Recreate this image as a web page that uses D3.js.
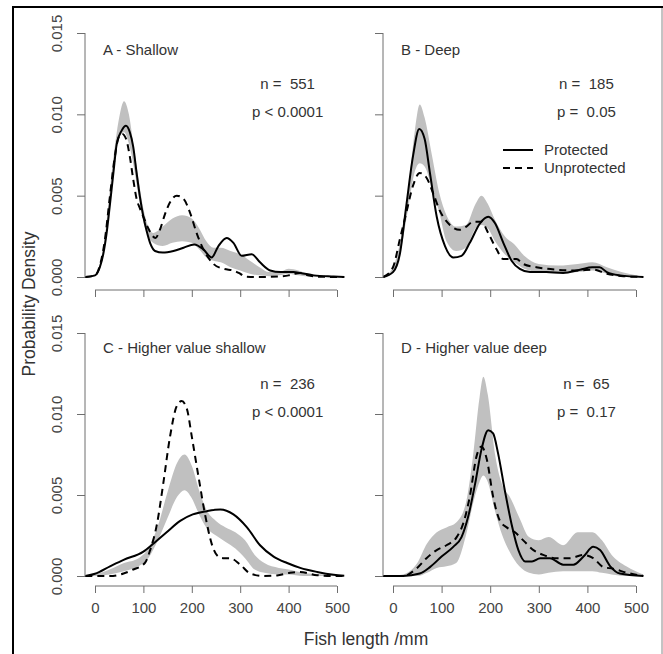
<!DOCTYPE html>
<html>
<head>
<meta charset="utf-8">
<script src="https://cdn.jsdelivr.net/npm/d3@7"></script>
<style>
  body { margin: 0; background: #fff; }
  text { font-family: "Liberation Sans", Arial, Helvetica, sans-serif; }
</style>
</head>
<body>
<svg id="chart" width="663" height="654"></svg>
<script>
// ---- data: [length mm, density] ----
var xTicks = [0, 100, 200, 300, 400, 500];
var yTicks = [0, 0.005, 0.010, 0.015];

var panelTitles = ["A - Shallow", "B - Deep", "C - Higher value shallow", "D - Higher value deep"];
var sampleSizes = ["n =  551", "n =  185", "n =  236", "n =  65"];
var pValues = ["p < 0.0001", "p =  0.05", "p < 0.0001", "p =  0.17"];
var legendLabels = ["Protected", "Unprotected"];

var aProt = [[-20,0],[0,0.0001],[10,0.0006],[17,0.0014],[24,0.0027],[31,0.0045],[38,0.0064],[45,0.0082],[55,0.009],[64,0.0093],[72,0.0089],[79,0.008],[86,0.0064],[93,0.0049],[100,0.0037],[107,0.0028],[115,0.002],[124,0.0016],[140,0.0015],[162,0.0016],[183,0.0018],[205,0.002],[224,0.0017],[241,0.0012],[255,0.0019],[272,0.0024],[286,0.0021],[303,0.0013],[324,0.0014],[341,0.0009],[362,0.0004],[383,0.0003],[410,0.0003],[424,0.00025],[452,0.0001],[493,0.00003],[515,0]];
var aUnp = [[-20,0],[0,0.0001],[10,0.0007],[20,0.0022],[31,0.005],[40,0.0072],[48,0.0085],[56,0.0088],[64,0.0085],[72,0.0074],[79,0.006],[86,0.0048],[93,0.0042],[100,0.0037],[110,0.003],[117,0.0026],[125,0.0024],[134,0.0029],[145,0.0039],[155,0.0046],[169,0.005],[183,0.0048],[197,0.0039],[210,0.0027],[224,0.0017],[245,0.0008],[266,0.0005],[286,0.0004],[300,0.0002],[310,0.00003],[340,0],[380,0.00003],[400,0.0001],[412,0.0002],[424,0.00025],[440,0.0001],[460,0.00002],[515,0]];
var aBand = [[-20,0,0],[0,0.00005,0.0001],[10,0.0005,0.0008],[20,0.0018,0.0024],[30,0.0042,0.0052],[40,0.0068,0.0078],[50,0.0086,0.0098],[60,0.0089,0.0108],[70,0.0082,0.01],[80,0.0068,0.008],[90,0.005,0.006],[100,0.0034,0.0042],[110,0.0025,0.0031],[120,0.0021,0.0027],[140,0.0019,0.0031],[160,0.0021,0.0036],[180,0.0022,0.0038],[200,0.0021,0.0036],[215,0.0017,0.003],[230,0.0012,0.0022],[245,0.001,0.0018],[260,0.0009,0.0018],[280,0.0006,0.0016],[300,0.0004,0.0014],[320,0.0002,0.001],[340,0.0001,0.0006],[360,0.00005,0.0003],[380,0.0001,0.0003],[400,0.0002,0.0005],[420,0.0001,0.0004],[440,0.00003,0.0002],[460,0,0.0001],[515,0,0]];

var bProt = [[-20,0],[0,0.0003],[14,0.0014],[27,0.0043],[41,0.0074],[54,0.0091],[65,0.0085],[76,0.0064],[90,0.0037],[107,0.0019],[124,0.0012],[141,0.0013],[158,0.0021],[179,0.0033],[196,0.0037],[210,0.0033],[227,0.0021],[244,0.001],[261,0.0005],[282,0.0003],[316,0.0003],[350,0.00025],[385,0.00045],[410,0.0006],[425,0.0006],[440,0.0003],[467,0.0001],[515,0]];
var bUnp = [[-20,0],[0,0.0006],[14,0.0023],[27,0.0039],[41,0.0056],[55,0.0064],[69,0.0061],[82,0.0052],[96,0.0041],[117,0.0032],[137,0.0029],[151,0.0031],[165,0.0034],[182,0.0034],[196,0.0027],[213,0.0017],[227,0.0011],[254,0.0011],[268,0.0008],[295,0.0006],[336,0.00045],[378,0.0004],[412,0.00045],[440,0.0002],[474,0.00005],[515,0]];
var bBand = [[-20,0,0],[0,0.0003,0.0006],[15,0.0015,0.0022],[30,0.004,0.005],[45,0.0065,0.009],[55,0.007,0.0106],[65,0.0068,0.0098],[80,0.0055,0.0075],[95,0.004,0.0052],[110,0.0022,0.0038],[130,0.0016,0.0031],[150,0.0018,0.0032],[170,0.003,0.0045],[182,0.0032,0.005],[195,0.003,0.0045],[210,0.0022,0.0035],[230,0.0014,0.0025],[250,0.0009,0.002],[270,0.0005,0.0013],[300,0.0003,0.0008],[340,0.0002,0.0007],[380,0.0003,0.0008],[410,0.0004,0.0009],[440,0.0002,0.0006],[470,0,0.0003],[500,0,0.0001],[515,0,0]];

var cProt = [[-20,0],[0,0.00014],[31,0.0006],[59,0.001],[100,0.0015],[121,0.002],[148,0.0027],[176,0.0034],[202,0.0038],[231,0.004],[259,0.0041],[286,0.0038],[314,0.003],[341,0.0019],[369,0.0012],[397,0.0008],[424,0.0005],[459,0.00025],[493,0.00008],[515,0.00002]];
var cUnp = [[-20,0],[10,0],[31,0],[59,0.00015],[79,0.0004],[103,0.0008],[114,0.0016],[128,0.0032],[141,0.0057],[155,0.0086],[169,0.0105],[179,0.0108],[190,0.0103],[200,0.0086],[214,0.0061],[228,0.0037],[241,0.002],[255,0.0012],[267,0.0011],[279,0.0011],[300,0.0007],[321,0.00015],[348,0],[376,0.00003],[403,0.0002],[424,0.00025],[459,0.00005],[500,0],[515,0]];
var cBand = [[-20,0,0],[0,0,0.0001],[30,0.0001,0.0004],[60,0.0003,0.0008],[90,0.0006,0.0011],[110,0.0011,0.0017],[130,0.0022,0.0031],[150,0.0036,0.0052],[170,0.0049,0.007],[185,0.0053,0.0075],[200,0.0048,0.0068],[215,0.0038,0.0053],[230,0.003,0.0041],[250,0.0025,0.0034],[270,0.0021,0.003],[290,0.0017,0.0027],[310,0.0011,0.0022],[330,0.0004,0.0013],[350,0.0002,0.0008],[380,0.0001,0.0005],[400,0.0001,0.0004],[430,0,0.0002],[470,0,0.0001],[515,0,0]];

var dProt = [[-20,0],[21,0],[55,0.00015],[76,0.00055],[100,0.0012],[124,0.0018],[141,0.0024],[155,0.0037],[169,0.0057],[182,0.0078],[196,0.009],[206,0.0088],[216,0.0076],[230,0.0053],[244,0.0032],[258,0.0016],[272,0.0009],[286,0.0009],[303,0.0011],[323,0.0011],[350,0.0007],[371,0.0007],[392,0.0012],[412,0.0018],[426,0.0016],[447,0.0006],[467,0.00015],[515,0]];
var dUnp = [[-20,0],[21,0],[48,0.00045],[69,0.0011],[90,0.0016],[110,0.0019],[131,0.0024],[144,0.0032],[158,0.0049],[172,0.0074],[182,0.008],[193,0.0072],[206,0.0049],[220,0.0034],[234,0.003],[251,0.0027],[268,0.0022],[289,0.0016],[309,0.0013],[337,0.0011],[364,0.0011],[392,0.0013],[412,0.0011],[433,0.00055],[453,0.00045],[481,0.0002],[515,0]];
var dBand = [[-20,0,0],[20,0,0.0001],[50,0,0.0008],[70,0.0002,0.002],[90,0.0005,0.0027],[110,0.0006,0.003],[130,0.0008,0.0033],[150,0.0025,0.0045],[165,0.0045,0.0075],[178,0.0058,0.011],[186,0.0062,0.0123],[195,0.0058,0.0112],[210,0.004,0.0075],[225,0.0025,0.0056],[240,0.0015,0.0049],[260,0.0006,0.0036],[280,0.0002,0.0024],[300,0.0001,0.0022],[320,0.0002,0.0024],[350,0.0003,0.0019],[380,0.0003,0.0027],[410,0.0003,0.0027],[430,0.0002,0.0022],[450,0.0001,0.0013],[480,0,0.0006],[515,0,0.0001]];

var prots = [aProt, bProt, cProt, dProt];
var unps = [aUnp, bUnp, cUnp, dUnp];
var bands = [aBand, bBand, cBand, dBand];

// ---- layout ----
var svg = d3.select("#chart");
var cols = [[95, 337], [393, 636]];      // x pixel of 0 and 500
var rows = [[277, 33], [576, 333]];      // y pixel of 0 and 0.015
var yAxisX = [85, 383];
var xAxisY = [290, 586];
var axisCol = "#6e6e6e", tickCol = "#444", txtCol = "#333";

// frame
svg.append("line").attr("x1", 12).attr("x2", 663).attr("y1", 7).attr("y2", 7)
  .attr("stroke", "#000").attr("stroke-width", 2);
svg.append("line").attr("x1", 13).attr("x2", 13).attr("y1", 6).attr("y2", 654)
  .attr("stroke", "#000").attr("stroke-width", 2);
svg.append("line").attr("x1", 662).attr("x2", 662).attr("y1", 8).attr("y2", 654)
  .attr("stroke", "#888").attr("stroke-width", 1);

for (var i = 0; i < 4; i++) {
  var c = i % 2, r = Math.floor(i / 2);
  var x = d3.scaleLinear().domain([0, 500]).range(cols[c]);
  var y = d3.scaleLinear().domain([0, 0.015]).range(rows[r]);
  var g = svg.append("g");

  var area = d3.area().x(function(d){ return x(d[0]); })
    .y0(function(d){ return y(d[1]); }).y1(function(d){ return y(d[2]); })
    .curve(d3.curveMonotoneX);
  var line = d3.line().x(function(d){ return x(d[0]); })
    .y(function(d){ return y(d[1]); }).curve(d3.curveMonotoneX);

  g.append("path").datum(bands[i]).attr("d", area).attr("fill", "#c0c0c0");
  g.append("path").datum(unps[i]).attr("d", line).attr("fill", "none")
    .attr("stroke", "#000").attr("stroke-width", 2).attr("stroke-dasharray", "7,5");
  g.append("path").datum(prots[i]).attr("d", line).attr("fill", "none")
    .attr("stroke", "#000").attr("stroke-width", 2);

  // y axis (R style, detached)
  var ya = g.append("g").attr("transform", "translate(" + yAxisX[c] + ",0)")
    .call(d3.axisLeft(y).tickValues(yTicks).tickSize(8).tickFormat(d3.format(".3f")));
  ya.select(".domain").attr("d", "M0," + y(0) + "V" + y(0.015));
  ya.selectAll("line, .domain").attr("stroke", axisCol);
  if (c === 0) {
    ya.selectAll(".tick text").attr("transform", "rotate(-90)").attr("x", 0).attr("y", -23)
      .attr("dy", 0).attr("text-anchor", "middle").attr("fill", tickCol).style("font-size", "15px");
  } else {
    ya.selectAll(".tick text").remove();
  }

  // x axis
  var xa = g.append("g").attr("transform", "translate(0," + xAxisY[r] + ")")
    .call(d3.axisBottom(x).tickValues(xTicks).tickSize(7));
  xa.select(".domain").attr("d", "M" + x(0) + ",0H" + x(500));
  xa.selectAll("line, .domain").attr("stroke", axisCol);
  if (r === 1) {
    xa.selectAll(".tick text").attr("y", 22).attr("dy", "0.32em").attr("fill", tickCol).style("font-size", "15px");
  } else {
    xa.selectAll(".tick text").remove();
  }

  // panel annotations
  var topY = rows[r][1];
  g.append("text").attr("x", x(0) + 8).attr("y", topY + (r === 0 ? 22 : 20))
    .attr("fill", txtCol).style("font-size", "15px").text(panelTitles[i]);
  g.append("text").attr("x", x(398)).attr("y", topY + 56).attr("text-anchor", "middle")
    .attr("fill", txtCol).style("font-size", "15px").style("white-space", "pre").text(sampleSizes[i]);
  g.append("text").attr("x", x(398)).attr("y", topY + 84).attr("text-anchor", "middle")
    .attr("fill", txtCol).style("font-size", "15px").style("white-space", "pre").text(pValues[i]);

  // legend in panel B
  if (i === 1) {
    [0, 1].forEach(function(k) {
      var ly = 150 + k * 18;
      g.append("line").attr("x1", 503).attr("x2", 533).attr("y1", ly).attr("y2", ly)
        .attr("stroke", "#000").attr("stroke-width", 2)
        .attr("stroke-dasharray", k ? "7,5" : null);
      g.append("text").attr("x", 544).attr("y", ly + 5).attr("fill", txtCol)
        .style("font-size", "15px").text(legendLabels[k]);
    });
  }
}

// axis titles
svg.append("text").attr("transform", "translate(35,304) rotate(-90)").attr("text-anchor", "middle")
  .attr("fill", txtCol).style("font-size", "17.5px").text("Probability Density");
svg.append("text").attr("x", 366).attr("y", 645).attr("text-anchor", "middle")
  .attr("fill", txtCol).style("font-size", "17.5px").text("Fish length /mm");
</script>
</body>
</html>
